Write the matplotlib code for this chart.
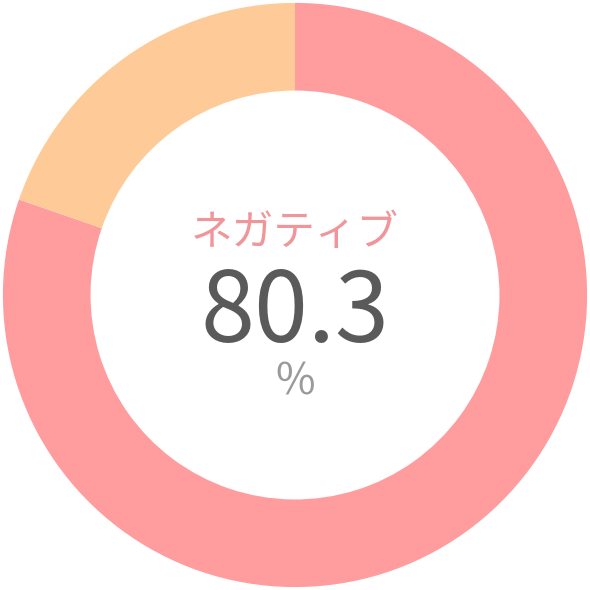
import matplotlib
matplotlib.use("Agg")
import matplotlib.pyplot as plt

# data
labels = ["ネガティブ", "その他"]
values = [80.3, 19.7]
colors = ["#FF9C9E", "#FECA98"]
center_label = "ネガティブ"
center_value = "80.3"
center_unit = "%"

plt.rcParams['font.family'] = ['Noto Sans CJK JP', 'DejaVu Sans']

fig = plt.figure(figsize=(5.9, 5.9), dpi=100)
ax = fig.add_axes([0, 0, 1, 1])
ax.pie(values, colors=colors, startangle=90, counterclock=False,
       radius=1.0, wedgeprops=dict(width=0.30, edgecolor='none'))
ax.set_xlim(-1.01, 1.01)
ax.set_ylim(-1.01, 1.01)
ax.set_aspect('equal')
ax.axis('off')

ax.text(0, 0.212, center_label, ha='center', va='center', fontsize=30, color='#F0969A')
ax.text(0, -0.066, center_value, ha='center', va='center', fontsize=70, color='#5A5A5A')
ax.text(0, -0.30, center_unit, ha='center', va='center', fontsize=31, color='#9A9A9A')

fig.savefig("out.png", dpi=100, facecolor='white')
